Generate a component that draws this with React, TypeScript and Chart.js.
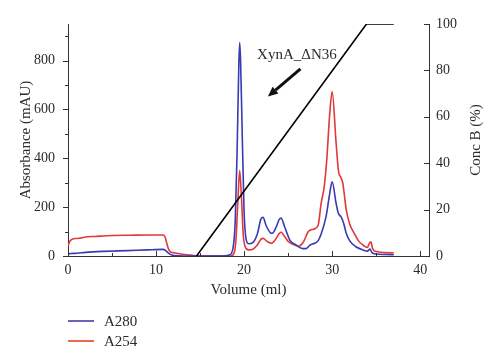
import React, { useEffect, useRef } from "react";
import { Chart, registerables } from "chart.js";

Chart.register(...registerables);

// ---- data ----
const volumeA280 = [
  0, 0.3, 1.0, 2.0, 4.0, 6.7, 9.0, 10.8, 11.1, 11.4, 11.8, 12.5, 14.0, 17.5, 18.3, 18.7,
  19.0, 19.2, 19.4, 19.5, 19.6, 19.8, 20.0, 20.2, 20.5, 21.0, 21.5, 21.9, 22.15, 22.5, 23.0,
  23.2, 23.6, 24.0, 24.2, 24.6, 25.2, 25.9, 26.5, 27.0, 27.5, 28.0, 28.4, 28.75, 29.3, 29.7,
  30.0, 30.45, 30.7, 31.0, 31.3, 31.6, 32.0, 32.7, 33.5, 34.0, 34.3, 34.5, 35.0, 36.0, 37.0,
];
const a280 = [
  8, 10, 11, 15, 19, 22, 25, 27, 22, 12, 4, 1, 0, 0, 4, 25,
  150, 420, 780, 874, 800, 480, 180, 75, 50, 55, 90, 150, 158, 125, 95,
  93, 115, 150, 155, 120, 65, 45, 32, 30, 45, 52, 62, 90, 160, 250,
  304, 216, 175, 161, 135, 93, 62, 38, 25, 20, 28, 15, 8, 6, 5,
];

const volumeA254 = [
  0, 0.2, 0.45, 1.0, 1.5, 2.0, 3.0, 5.0, 7.0, 9.0, 10.8, 11.0, 11.2, 11.4, 11.6, 12.0, 12.5,
  13.5, 14.5, 15.0, 18.5, 18.9, 19.1, 19.3, 19.5, 19.7, 19.9, 20.1, 20.5, 21.0, 21.5, 21.9,
  22.15, 22.6, 23.1, 23.6, 24.0, 24.2, 24.6, 25.0, 25.5, 26.2, 26.7, 27.3, 27.9, 28.4, 28.75,
  29.1, 29.4, 29.7, 30.0, 30.45, 30.75, 30.95, 31.2, 31.6, 32.0, 32.4, 33.0, 33.5, 34.0, 34.2,
  34.4, 34.6, 35.0, 36.0, 37.0,
];
const a254 = [
  40, 60, 68, 72, 74, 78, 80, 84, 85, 86, 86, 80, 55, 30, 18, 13, 10,
  5, 1, 0, 0, 15, 80, 230, 350, 240, 90, 40, 25, 28, 45, 68,
  72, 60, 52, 70, 92, 97, 80, 60, 49, 40, 55, 100, 110, 125, 216,
  284, 400, 570, 673, 463, 340, 325, 300, 190, 130, 100, 62, 45, 35, 50,
  58, 30, 18, 14, 12,
];

const gradientVolume = [14.6, 33.9, 37.0];
const gradientConc = [0, 100, 100];

const xTicks = [0, 10, 20, 30, 40];
const xMinorTicks = [5, 15, 25, 35];
const yTicks = [0, 200, 400, 600, 800];
const yMinorTicks = [100, 300, 500, 700, 900];
const y2Ticks = [0, 20, 40, 60, 80, 100];

const seriesNames = ["A280", "A254"];
const seriesColors = ["#3a3ab2", "#e0393a"];
const legendColors = ["#6d62b8", "#ec6a48"];

const annotationText = "XynA_\u0394N36";
const annotationTextPos = { x: 26.0, y: 823 };
const arrowFrom = { x: 26.4, y: 766 };
const arrowTo = { x: 22.7, y: 653 };

const TEXT = "#2b2b2b";
const AXIS = "#333333";
const FONT = "'Liberation Serif', 'Times New Roman', serif";

const decorPlugin = {
  id: "decor",
  afterDraw(chart: any) {
    const { ctx, chartArea } = chart;
    const x = chart.scales.x;
    const y = chart.scales.y;
    const y2 = chart.scales.y2;
    ctx.save();
    ctx.strokeStyle = AXIS;
    ctx.lineWidth = 1;
    const seg = (x1: number, y1: number, x2: number, y2p: number) => {
      ctx.beginPath();
      ctx.moveTo(x1, y1);
      ctx.lineTo(x2, y2p);
      ctx.stroke();
    };
    const bottom = chartArea.bottom;
    xTicks.forEach((v) => {
      const px = Math.round(x.getPixelForValue(v)) + 0.5;
      seg(px, bottom, px, bottom - 5);
    });
    xMinorTicks.forEach((v) => {
      const px = Math.round(x.getPixelForValue(v)) + 0.5;
      seg(px, bottom, px, bottom - 3);
    });
    const left = chartArea.left;
    yTicks.forEach((v) => {
      const py = Math.round(y.getPixelForValue(v)) + 0.5;
      seg(left - 5, py, left, py);
    });
    yMinorTicks.forEach((v) => {
      const py = Math.round(y.getPixelForValue(v)) + 0.5;
      seg(left - 3, py, left, py);
    });
    const right = chartArea.right;
    y2Ticks.forEach((v) => {
      const py = Math.round(y2.getPixelForValue(v)) + 0.5;
      seg(right - 5, py, right, py);
    });

    // right axis title, reading bottom to top
    ctx.fillStyle = TEXT;
    ctx.font = `15px ${FONT}`;
    ctx.textAlign = "center";
    ctx.textBaseline = "middle";
    ctx.save();
    ctx.translate(476, (chartArea.top + chartArea.bottom) / 2);
    ctx.rotate(-Math.PI / 2);
    ctx.fillText("Conc B (%)", 0, 0);
    ctx.restore();

    // annotation
    ctx.fillText(
      annotationText,
      x.getPixelForValue(annotationTextPos.x),
      y.getPixelForValue(annotationTextPos.y)
    );
    const ax1 = x.getPixelForValue(arrowFrom.x);
    const ay1 = y.getPixelForValue(arrowFrom.y);
    const ax2 = x.getPixelForValue(arrowTo.x);
    const ay2 = y.getPixelForValue(arrowTo.y);
    const ang = Math.atan2(ay2 - ay1, ax2 - ax1);
    const headLen = 10;
    const headW = 4.5;
    const bx = ax2 - headLen * Math.cos(ang);
    const byy = ay2 - headLen * Math.sin(ang);
    ctx.strokeStyle = "#111";
    ctx.lineWidth = 3;
    seg(ax1, ay1, bx, byy);
    ctx.fillStyle = "#111";
    ctx.beginPath();
    ctx.moveTo(ax2, ay2);
    ctx.lineTo(bx + headW * Math.sin(ang), byy - headW * Math.cos(ang));
    ctx.lineTo(bx - headW * Math.sin(ang), byy + headW * Math.cos(ang));
    ctx.closePath();
    ctx.fill();
    ctx.restore();
  },
};

export default function App() {
  const canvasRef = useRef<HTMLCanvasElement | null>(null);

  useEffect(() => {
    const canvas = canvasRef.current;
    if (!canvas) return;
    Chart.defaults.font.family = FONT;
    const chart = new Chart(canvas, {
      type: "line",
      data: {
        datasets: [
          {
            label: "Conc B",
            data: gradientVolume.map((v, i) => ({ x: v, y: gradientConc[i] })),
            borderColor: "#000000",
            borderWidth: 1.6,
            pointRadius: 0,
            yAxisID: "y2",
            tension: 0,
          },
          {
            label: seriesNames[0],
            data: volumeA280.map((v, i) => ({ x: v, y: a280[i] })),
            borderColor: seriesColors[0],
            borderWidth: 1.6,
            pointRadius: 0,
            yAxisID: "y",
            cubicInterpolationMode: "monotone",
          },
          {
            label: seriesNames[1],
            data: volumeA254.map((v, i) => ({ x: v, y: a254[i] })),
            borderColor: seriesColors[1],
            borderWidth: 1.6,
            pointRadius: 0,
            yAxisID: "y",
            cubicInterpolationMode: "monotone",
          },
        ],
      },
      options: {
        animation: false,
        responsive: false,
        layout: { padding: { top: 24, left: 0, right: 0, bottom: 0 } },
        plugins: {
          legend: { display: false },
          tooltip: { enabled: false },
        },
        scales: {
          x: {
            type: "linear",
            min: 0,
            max: 41,
            afterBuildTicks: (s: any) => {
              s.ticks = xTicks.map((v) => ({ value: v }));
            },
            afterFit: (s: any) => {
              s.height = 107;
            },
            grid: { display: false, drawTicks: false },
            border: { display: true, color: AXIS, width: 1 },
            ticks: {
              padding: 6,
              color: TEXT,
              font: { size: 14 },
              maxRotation: 0,
              autoSkip: false,
            },
            title: {
              display: true,
              text: "Volume (ml)",
              color: TEXT,
              font: { size: 15 },
              padding: { top: 0, bottom: 64 },
            },
          },
          y: {
            type: "linear",
            position: "left",
            min: 0,
            max: 950,
            afterBuildTicks: (s: any) => {
              s.ticks = yTicks.map((v) => ({ value: v }));
            },
            afterFit: (s: any) => {
              s.width = 68;
            },
            grid: { display: false, drawTicks: false },
            border: { display: true, color: AXIS, width: 1 },
            ticks: { padding: 13, color: TEXT, font: { size: 14 } },
            title: {
              display: true,
              text: "Absorbance (mAU)",
              color: TEXT,
              font: { size: 15 },
              padding: { top: 17, bottom: 0 },
            },
          },
          y2: {
            type: "linear",
            position: "right",
            min: 0,
            max: 100,
            afterBuildTicks: (s: any) => {
              s.ticks = y2Ticks.map((v) => ({ value: v }));
            },
            afterFit: (s: any) => {
              s.width = 71;
            },
            grid: { display: false, drawTicks: false },
            border: { display: true, color: AXIS, width: 1 },
            ticks: { padding: 7, color: TEXT, font: { size: 14 } },
          },
        },
      },
      plugins: [decorPlugin],
    } as any);
    return () => chart.destroy();
  }, []);

  return (
    <div
      style={{
        position: "fixed",
        left: 0,
        top: 0,
        width: 500,
        height: 363,
        background: "#ffffff",
      }}
    >
      <canvas
        ref={canvasRef}
        width={500}
        height={363}
        style={{ width: 500, height: 363, display: "block" }}
      />
      {seriesNames.map((name, i) => (
        <div
          key={name}
          style={{
            position: "absolute",
            left: 68,
            top: 312 + i * 20,
            height: 18,
            display: "flex",
            alignItems: "center",
            fontFamily: FONT,
            fontSize: 15,
            color: TEXT,
          }}
        >
          <span
            style={{
              display: "inline-block",
              width: 26,
              height: 2,
              background: legendColors[i],
              marginRight: 10,
            }}
          />
          <span>{name}</span>
        </div>
      ))}
    </div>
  );
}
